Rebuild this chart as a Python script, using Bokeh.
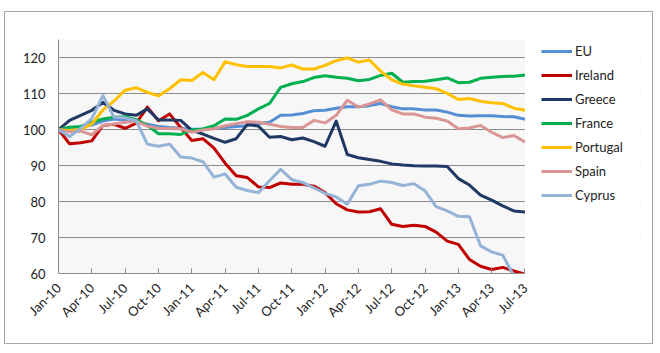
import math

from bokeh.plotting import figure
from bokeh.models import Range1d, FixedTicker, Legend, LegendItem, BoxAnnotation
from bokeh.embed import file_html
from bokeh.resources import INLINE

# Monthly index values, Jan-10 .. Jul-13 (Jan-10 = 100)
tick_labels = ["Jan-10", "Apr-10", "Jul-10", "Oct-10", "Jan-11", "Apr-11", "Jul-11",
               "Oct-11", "Jan-12", "Apr-12", "Jul-12", "Oct-12", "Jan-13", "Apr-13", "Jul-13"]

eu = [100.0, 100.3, 100.8, 101.3, 102.4, 103.0, 102.7, 102.3, 101.5, 100.9, 100.6, 100.4,
      100.1, 100.2, 100.4, 100.6, 100.9, 101.1, 101.7, 102.1, 104.0, 104.1, 104.5, 105.3,
      105.4, 106.0, 106.4, 106.4, 106.7, 107.3, 106.4, 105.8, 105.8, 105.5, 105.5, 104.9,
      104.0, 103.8, 103.9, 103.9, 103.7, 103.6, 102.9]
ireland = [100.0, 96.1, 96.4, 96.9, 101.2, 101.5, 100.4, 101.8, 106.3, 102.5, 104.4, 100.6,
           97.0, 97.5, 94.9, 90.7, 87.2, 86.7, 84.1, 83.9, 85.2, 84.8, 84.8, 84.3,
           82.5, 79.4, 77.7, 77.1, 77.2, 78.0, 73.7, 73.1, 73.4, 73.1, 71.5, 69.0,
           68.1, 63.9, 62.0, 61.1, 61.7, 60.7, 59.8]
greece = [100.0, 102.6, 104.0, 105.4, 107.6, 105.4, 104.4, 104.0, 105.8, 102.7, 102.7, 102.6,
          99.8, 98.8, 97.6, 96.5, 97.5, 101.5, 101.0, 97.9, 98.1, 97.2, 97.7, 96.7,
          95.4, 102.4, 93.1, 92.2, 91.7, 91.2, 90.5, 90.2, 90.0, 89.9, 89.9, 89.8,
          86.4, 84.6, 81.8, 80.4, 78.8, 77.4, 77.1]
france = [100.0, 100.7, 100.9, 102.1, 103.0, 103.5, 103.6, 102.8, 101.2, 98.9, 98.9, 98.7,
          99.9, 100.2, 101.1, 103.0, 102.9, 104.0, 105.8, 107.3, 111.8, 112.8, 113.4, 114.5,
          115.0, 114.6, 114.3, 113.6, 114.0, 115.1, 115.7, 113.2, 113.4, 113.5, 113.9, 114.4,
          113.1, 113.2, 114.3, 114.6, 114.8, 114.9, 115.2]
portugal = [100.0, 99.8, 100.1, 101.6, 105.5, 108.0, 111.0, 111.7, 110.4, 109.4, 111.4, 113.9,
            113.7, 115.9, 113.9, 118.9, 118.1, 117.6, 117.6, 117.6, 117.2, 118.0, 116.9, 116.9,
            117.9, 119.2, 120.0, 118.8, 119.4, 116.3, 113.9, 112.7, 112.2, 111.8, 111.4, 110.1,
            108.4, 108.7, 107.9, 107.5, 107.3, 106.0, 105.4]
spain = [100.0, 99.4, 99.6, 98.6, 101.2, 101.6, 102.1, 102.3, 101.0, 100.4, 100.3, 100.3,
         99.3, 99.9, 100.3, 101.1, 101.7, 102.2, 102.1, 101.5, 100.9, 100.6, 100.6, 102.6,
         101.9, 104.0, 108.2, 106.3, 107.2, 108.3, 105.5, 104.4, 104.4, 103.5, 103.2, 102.4,
         100.3, 100.5, 101.2, 99.3, 97.8, 98.4, 96.6]
cyprus = [100.0, 98.1, 100.4, 103.1, 109.5, 103.5, 103.3, 102.5, 96.0, 95.4, 96.0, 92.4,
          92.1, 91.1, 86.8, 87.7, 84.0, 83.1, 82.5, 85.8, 89.0, 86.1, 85.3, 83.8,
          82.3, 81.3, 79.3, 84.4, 84.8, 85.7, 85.3, 84.5, 85.0, 83.0, 78.6, 77.4,
          75.9, 75.8, 67.7, 66.0, 65.1, 59.3, 58.0]

series_names = ["EU", "Ireland", "Greece", "France", "Portugal", "Spain", "Cyprus"]
series_values = [eu, ireland, greece, france, portugal, spain, cyprus]
series_colors = ["#558ED5", "#C00000", "#1F3864", "#00B050", "#FFC000", "#D99694", "#95B3D7"]

months = list(range(len(eu)))
last = len(eu) - 1
FONT = "Lato"
TEXT = "#222222"
GRID = "#8c8c8c"

# chart area: 647x331 box with a thin grey frame, inset in the page.
# The frame runs on to the right so the legend sits inside it; the
# plotted months stop at `last`.
p = figure(width=647, height=331, output_backend="svg", toolbar_location=None,
           x_range=Range1d(0, 52.4), y_range=Range1d(60, 125.1),
           min_border_left=53, min_border_right=12, min_border_top=27, min_border_bottom=70,
           margin=(12, 0, 0, 5),
           styles={"outline": "1px solid #A6A6A6"})

p.background_fill_color = "#F7F7F7"
p.border_fill_color = "white"
p.outline_line_color = None

# y axis
p.yaxis.ticker = FixedTicker(ticks=[60, 70, 80, 90, 100, 110, 120])
p.yaxis.axis_line_color = GRID
p.yaxis.major_tick_in = 0
p.yaxis.major_tick_out = 0
p.yaxis.minor_tick_line_color = None
p.yaxis.major_label_standoff = 13
p.yaxis.major_label_text_font = FONT
p.yaxis.major_label_text_font_size = "13px"
p.yaxis.major_label_text_color = TEXT

# x axis: a tick every quarter
p.xaxis.ticker = FixedTicker(ticks=list(range(0, len(eu), 3)))
p.xaxis.bounds = (0, last)
p.xaxis.major_label_overrides = {i * 3: lab for i, lab in enumerate(tick_labels)}
p.xaxis.major_label_orientation = math.pi / 4
p.xaxis.axis_line_color = GRID
p.xaxis.major_tick_line_color = GRID
p.xaxis.major_tick_in = 5
p.xaxis.major_tick_out = 0
p.xaxis.minor_tick_line_color = None
p.xaxis.major_label_standoff = 12
p.xaxis.major_label_text_font = FONT
p.xaxis.major_label_text_font_size = "13px"
p.xaxis.major_label_text_color = TEXT

p.xgrid.visible = False
p.ygrid.grid_line_color = GRID
p.ygrid.grid_line_width = 1

# white strip to the right of the last month (legend area)
p.add_layout(BoxAnnotation(left=last, fill_color="white", fill_alpha=1,
                           line_color=None, level="underlay"))

items = []
for name, vals, col in zip(series_names, series_values, series_colors):
    r = p.line(months, vals, line_color=col, line_width=3, line_join="round")
    items.append(LegendItem(label=name, renderers=[r]))

legend = Legend(items=items, location=(483, 68), orientation="vertical",
                glyph_width=31, glyph_height=20, label_height=20,
                spacing=4, label_standoff=3, padding=0, margin=0,
                border_line_color=None, background_fill_alpha=0,
                label_text_font=FONT, label_text_font_size="13px",
                label_text_color=TEXT)
p.add_layout(legend, "center")

open("out.html", "w").write(file_html(p, INLINE))
